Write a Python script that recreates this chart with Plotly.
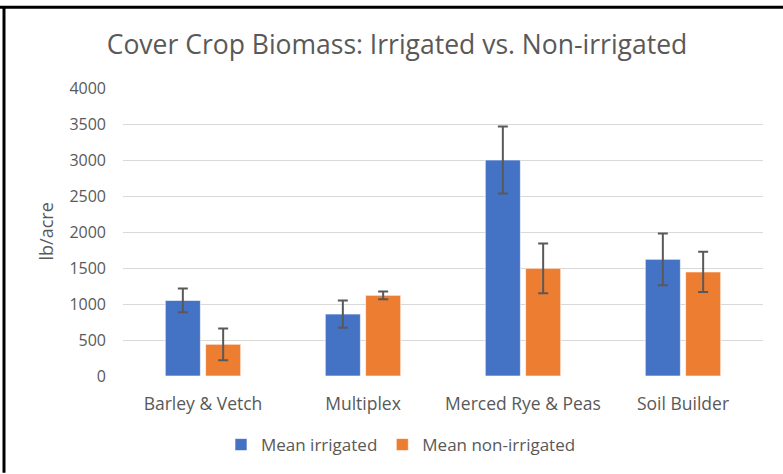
import plotly.graph_objects as go

categories = ["Barley & Vetch", "Multiplex", "Merced Rye & Peas", "Soil Builder"]
irrigated = [1050, 860, 3000, 1620]
irrigated_err = [165, 190, 465, 360]
non_irrigated = [440, 1120, 1495, 1445]
non_irrigated_err = [220, 55, 345, 280]
y_ticks = [0, 500, 1000, 1500, 2000, 2500, 3000, 3500, 4000]

W, H = 783, 474
L, R, T, B = 123, 20, 88, 97
pw, ph = W - L - R, H - T - B

FONT = "Open Sans"
GREY = "#595959"

fig = go.Figure()
fig.add_trace(go.Bar(
    name="Mean irrigated", x=categories, y=irrigated,
    marker=dict(color="#4472C4", line=dict(color="rgba(255,255,255,0.6)", width=1)),
    error_y=dict(type="data", array=irrigated_err, color=GREY, thickness=2, width=5),
))
fig.add_trace(go.Bar(
    name="Mean non-irrigated", x=categories, y=non_irrigated,
    marker=dict(color="#ED7D31", line=dict(color="rgba(255,255,255,0.6)", width=1)),
    error_y=dict(type="data", array=non_irrigated_err, color=GREY, thickness=2, width=5),
))

def px_x(p):
    return (p - L) / pw

def px_y(p):
    return (H - B - p) / ph

fig.update_layout(
    width=W, height=H, autosize=False,
    margin=dict(l=L, r=R, t=T, b=B),
    paper_bgcolor="white", plot_bgcolor="white",
    barmode="group", bargap=0.496, bargroupgap=0.13,
    font=dict(family=FONT, color=GREY),
    title=dict(text="Cover Crop Biomass: Irrigated vs. Non-irrigated",
               x=397 / W, xanchor="center", xref="container",
               y=1 - 45 / H, yanchor="middle", yref="container",
               font=dict(family=FONT, size=26.5, color=GREY)),
    xaxis=dict(showgrid=False, showline=False, zeroline=False,
               tickfont=dict(family=FONT, size=17.5, color=GREY),
               ticklabelstandoff=15),
    yaxis=dict(range=[0, 4000], tickvals=y_ticks, showgrid=True,
               gridcolor="#D9D9D9", gridwidth=1, zeroline=False, showline=False,
               tickfont=dict(family=FONT, size=16, color=GREY),
               ticklabelstandoff=16),
    legend=dict(orientation="h", x=px_x(401), xanchor="center",
                y=px_y(445), yanchor="middle",
                font=dict(family=FONT, size=17, color=GREY),
                itemwidth=30, traceorder="normal"),
    annotations=[dict(text="lb/acre", xref="paper", yref="paper",
                      x=px_x(46), y=px_y(232), xanchor="center", yanchor="middle",
                      textangle=-90, showarrow=False,
                      font=dict(family=FONT, size=18, color=GREY))],
    shapes=[
        dict(type="line", xref="paper", yref="paper",
             x0=px_x(0), x1=px_x(W), y0=px_y(7), y1=px_y(7),
             line=dict(color="black", width=3)),
        dict(type="line", xref="paper", yref="paper",
             x0=px_x(4), x1=px_x(4), y0=px_y(6), y1=px_y(H),
             line=dict(color="black", width=3)),
    ],
)

fig.write_html("out.html",
               config={"displayModeBar": False},
               post_script="document.body.style.margin='0';document.body.style.overflow='hidden';")
